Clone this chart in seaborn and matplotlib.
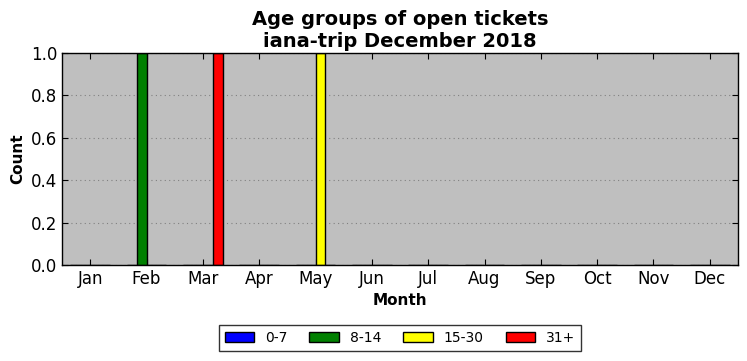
import pandas as pd
import seaborn as sns
import matplotlib.pyplot as plt

months = ["Jan", "Feb", "Mar", "Apr", "May", "Jun", "Jul", "Aug", "Sep", "Oct", "Nov", "Dec"]
age_groups = ["0-7", "8-14", "15-30", "31+"]
counts_0_7 = [0, 0, 0, 0, 0, 0, 0, 0, 0, 0, 0, 0]
counts_8_14 = [0, 1, 0, 0, 0, 0, 0, 0, 0, 0, 0, 0]
counts_15_30 = [0, 0, 0, 0, 1, 0, 0, 0, 0, 0, 0, 0]
counts_31 = [0, 0, 1, 0, 0, 0, 0, 0, 0, 0, 0, 0]
colors = {"0-7": "blue", "8-14": "green", "15-30": "yellow", "31+": "red"}

rows = []
for grp, vals in zip(age_groups, [counts_0_7, counts_8_14, counts_15_30, counts_31]):
    for m, v in zip(months, vals):
        rows.append({"Month": m, "Age": grp, "Count": v})
df = pd.DataFrame(rows)

sns.set_style("ticks")
plt.rcParams["font.family"] = ["DejaVu Sans"]
plt.rcParams["xtick.direction"] = "in"
plt.rcParams["ytick.direction"] = "in"
for key in ["text.color", "axes.labelcolor", "xtick.color", "ytick.color"]:
    plt.rcParams[key] = "black"

fig = plt.figure(figsize=(7.47, 3.61), dpi=100)
ax = fig.add_axes([62 / 747, 1 - 265 / 361, 676 / 747, 212 / 361])
ax.set_facecolor("#bfbfbf")

sns.barplot(data=df, x="Month", y="Count", hue="Age", hue_order=age_groups,
            order=months, palette=colors, width=0.7, edgecolor="black",
            linewidth=1, saturation=1, errorbar=None, ax=ax)

ax.set_xlim(-0.5, 11.5)
ax.set_ylim(0, 1.0)
ax.set_yticks([0, 0.2, 0.4, 0.6, 0.8, 1.0])
ax.set_yticklabels(["0.0", "0.2", "0.4", "0.6", "0.8", "1.0"])
ax.yaxis.grid(True, linestyle=(0, (1, 3)), color="#808080", linewidth=0.8)
ax.set_axisbelow(True)
ax.tick_params(axis="both", which="both", top=True, right=True, length=4,
               labelsize=12, color="black")
for sp in ax.spines.values():
    sp.set_visible(True)
    sp.set_color("black")
    sp.set_linewidth(1)

ax.set_xlabel("Month", fontsize=11, fontweight="bold")
ax.set_ylabel("Count", fontsize=11, fontweight="bold")
ax.set_title("Age groups of open tickets\niana-trip December 2018",
             fontsize=14, fontweight="bold", linespacing=1.2, pad=4)

sns.move_legend(ax, "upper center", bbox_to_anchor=(0.5, -0.285), ncol=4,
                title=None, frameon=True, fancybox=False, fontsize=10,
                edgecolor="black", handlelength=2.1, columnspacing=1.6,
                borderaxespad=0)
leg = ax.get_legend()
leg.get_frame().set_linewidth(1)

plt.savefig("out.png", dpi=100)
